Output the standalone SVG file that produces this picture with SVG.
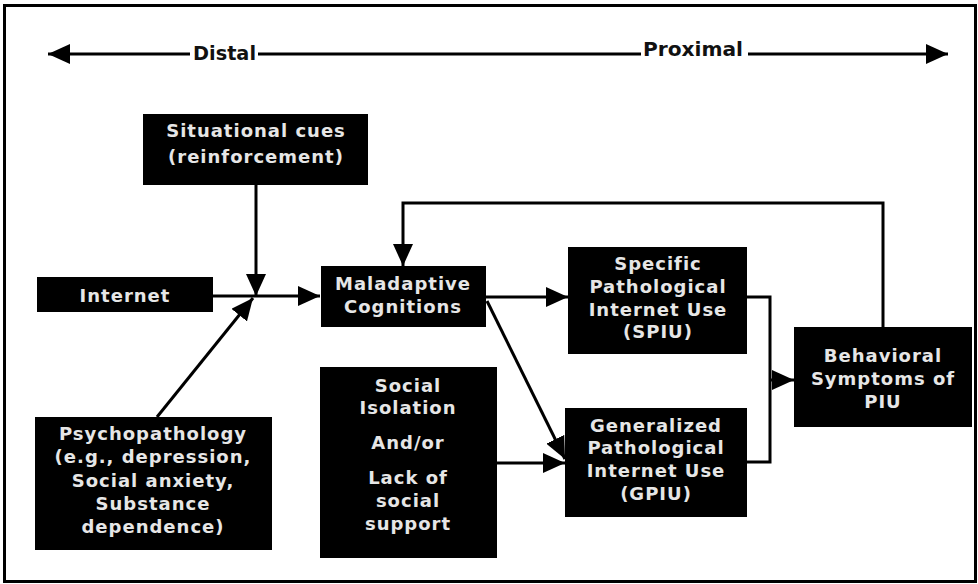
<svg xmlns="http://www.w3.org/2000/svg" width="978" height="584" viewBox="0 0 978 584">
  <style>
    .box { fill: #000; }
    .lbl { font-family: "DejaVu Sans", "Liberation Sans", sans-serif; font-weight: bold; font-size: 18px; fill: #e6e6e6; text-anchor: middle; letter-spacing: 1px; }
    .axis { font-family: "DejaVu Sans", "Liberation Sans", sans-serif; font-weight: bold; font-size: 20px; fill: #111; }
    .wire { fill: none; stroke: #000; stroke-width: 3; }
  </style>
  <defs>
    <marker id="head" markerUnits="userSpaceOnUse" markerWidth="22" markerHeight="20" refX="22" refY="10" orient="auto-start-reverse">
      <path d="M0,0 L22,10 L0,20 Z" fill="#000"/>
    </marker>
  </defs>

  <rect x="4.5" y="5.5" width="971" height="576" fill="#fff" stroke="#000" stroke-width="3"/>

  <!-- distal / proximal axis -->
  <g id="axis">
    <path class="wire" d="M48,54 H190" marker-start="url(#head)"/>
    <text class="axis" x="193" y="60" textLength="63" lengthAdjust="spacingAndGlyphs">Distal</text>
    <path class="wire" d="M258,54 H641"/>
    <text class="axis" x="643" y="56" textLength="100" lengthAdjust="spacingAndGlyphs">Proximal</text>
    <path class="wire" d="M748,54 H948" marker-end="url(#head)"/>
  </g>

  <g id="connectors">
    <path class="wire" d="M256,185 V296" marker-end="url(#head)"/>
    <path class="wire" d="M213,296 H320" marker-end="url(#head)"/>
    <path class="wire" d="M157,417 L253,298" marker-end="url(#head)"/>
    <path class="wire" d="M486,297 H568" marker-end="url(#head)"/>
    <path class="wire" d="M487,301 L565,459" marker-end="url(#head)"/>
    <path class="wire" d="M497,463 H565" marker-end="url(#head)"/>
    <path class="wire" d="M747,297 H770 V462 H747"/>
    <path class="wire" d="M770,380 H794" marker-end="url(#head)"/>
    <path class="wire" d="M883,327 V203 H403 V266" marker-end="url(#head)"/>
  </g>

  <g id="situational-cues">
    <rect class="box" x="143" y="114" width="225" height="71"/>
    <text class="lbl" x="256" y="137">Situational cues</text>
    <text class="lbl" x="256" y="163">(reinforcement)</text>
  </g>

  <g id="internet">
    <rect class="box" x="37" y="277" width="176" height="35"/>
    <text class="lbl" x="125" y="302">Internet</text>
  </g>

  <g id="psychopathology">
    <rect class="box" x="35" y="417" width="237" height="133"/>
    <text class="lbl" x="153" y="440">Psychopathology</text>
    <text class="lbl" x="153" y="463">(e.g., depression,</text>
    <text class="lbl" x="153" y="487">Social anxiety,</text>
    <text class="lbl" x="153" y="510">Substance</text>
    <text class="lbl" x="153" y="533">dependence)</text>
  </g>

  <g id="maladaptive-cognitions">
    <rect class="box" x="321" y="266" width="165" height="61"/>
    <text class="lbl" x="403" y="290">Maladaptive</text>
    <text class="lbl" x="403" y="313">Cognitions</text>
  </g>

  <g id="social-isolation">
    <rect class="box" x="320" y="367" width="177" height="191"/>
    <text class="lbl" x="408" y="392">Social</text>
    <text class="lbl" x="408" y="414">Isolation</text>
    <text class="lbl" x="408" y="449">And/or</text>
    <text class="lbl" x="408" y="484">Lack of</text>
    <text class="lbl" x="408" y="507">social</text>
    <text class="lbl" x="408" y="530">support</text>
  </g>

  <g id="spiu">
    <rect class="box" x="568" y="247" width="179" height="107"/>
    <text class="lbl" x="658" y="270">Specific</text>
    <text class="lbl" x="658" y="293">Pathological</text>
    <text class="lbl" x="658" y="316">Internet Use</text>
    <text class="lbl" x="658" y="338">(SPIU)</text>
  </g>

  <g id="gpiu">
    <rect class="box" x="565" y="408" width="182" height="109"/>
    <text class="lbl" x="656" y="432">Generalized</text>
    <text class="lbl" x="656" y="454">Pathological</text>
    <text class="lbl" x="656" y="477">Internet Use</text>
    <text class="lbl" x="656" y="500">(GPIU)</text>
  </g>

  <g id="behavioral-symptoms">
    <rect class="box" x="794" y="327" width="178" height="100"/>
    <text class="lbl" x="883" y="362">Behavioral</text>
    <text class="lbl" x="883" y="385">Symptoms of</text>
    <text class="lbl" x="883" y="408">PIU</text>
  </g>
</svg>
